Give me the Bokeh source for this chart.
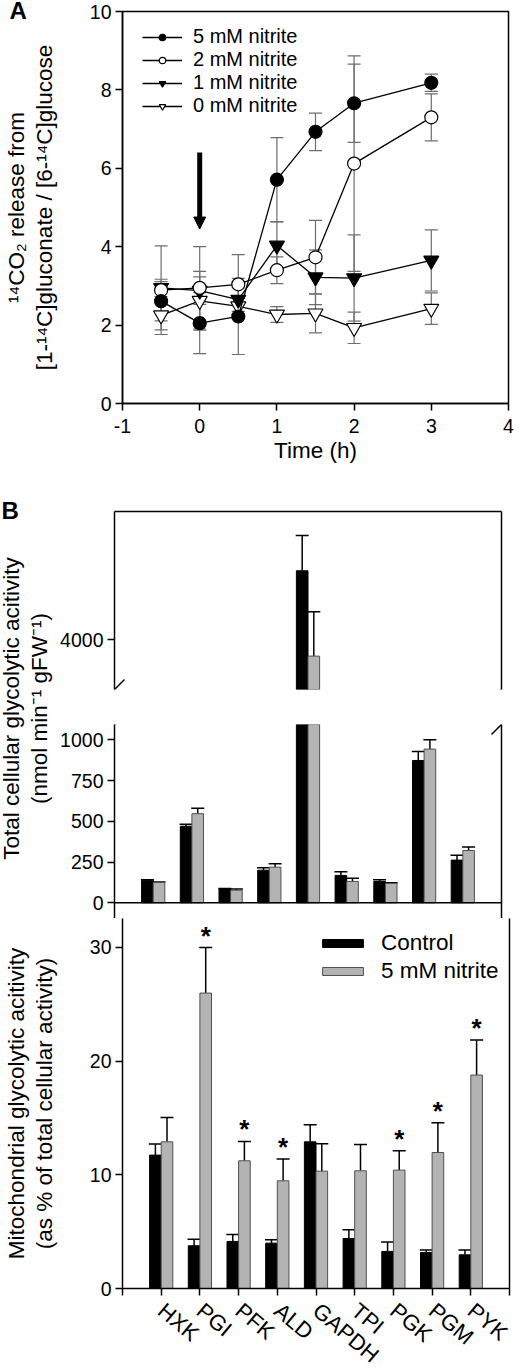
import numpy as np
from bokeh.plotting import figure
from bokeh.models import (ColumnDataSource, Whisker, TeeHead, Arrow, NormalHead, Legend,
                          LegendItem, FixedTicker, LinearAxis, Range1d, Label, Span)
from bokeh.layouts import column, row
from bokeh.transform import dodge
from bokeh.embed import file_html
from bokeh.resources import INLINE
from bokeh.core.properties import value

FONT = "Liberation Sans"
TICK_FS = "19.5px"
LABEL_FS = "22.5px"
ERR_GRAY = "#6e6e6e"
NIT_FILL = "#b3b3b3"
NIT_LINE = "#505050"

# ---------------- Panel A data ----------------
time_h = [-0.5, 0, 0.5, 1, 1.5, 2, 3]
ratio_5mM = [2.61, 2.05, 2.22, 5.71, 6.93, 7.66, 8.18]
err_5mM = [0.50, 0.78, 0.97, 1.07, 0.48, 1.00, 0.22]
ratio_2mM = [2.89, 2.95, 3.04, 3.40, 3.73, 6.12, 7.30]
err_2mM = [1.13, 1.05, 0.76, 0.34, 0.94, 2.75, 0.60]
ratio_1mM = [2.95, 2.88, 2.65, 4.03, 3.22, 3.20, 3.65]
err_1mM = [0.22, 0.35, 0.30, 0.60, 0.70, 1.10, 0.78]
ratio_0mM = [2.25, 2.62, 2.48, 2.27, 2.30, 1.93, 2.42]
err_0mM = [0.37, 0.75, 0.20, 0.20, 0.50, 0.40, 0.40]
series_labels = ["5 mM nitrite", "2 mM nitrite", "1 mM nitrite", "0 mM nitrite"]
x_ticks_A = [-1, 0, 1, 2, 3, 4]
y_ticks_A = [0, 2, 4, 6, 8, 10]
nitrite_added_at = 0          # time of the arrow
arrow_from, arrow_to = 6.4, 4.45

# ---------------- Panel B data ----------------
enzymes = ["HXK", "PGI", "PFK", "ALD", "GAPDH", "TPI", "PGK", "PGM", "PYK"]
total_control = [139, 470, 84, 200, 4424, 168, 131, 874, 262]
total_control_err = [3, 13, 3, 15, 217, 22, 10, 55, 30]
total_nitrite = [125, 547, 77, 219, 3900, 131, 119, 944, 321]
total_nitrite_err = [3, 34, 7, 21, 272, 20, 4, 57, 21]
mito_control = [11.73, 3.76, 4.14, 3.99, 12.90, 4.40, 3.26, 3.17, 2.96]
mito_control_err = [0.97, 0.58, 0.61, 0.29, 1.50, 0.76, 0.82, 0.21, 0.42]
mito_nitrite = [12.90, 25.98, 11.23, 9.47, 10.32, 10.35, 10.41, 11.96, 18.77]
mito_nitrite_err = [2.14, 4.00, 1.70, 1.91, 2.41, 2.32, 1.70, 2.61, 3.08]
significant = ["", "*", "*", "*", "", "", "*", "*", "*"]
total_ticks_low = [0, 250, 500, 750, 1000]
total_ticks_high = [4000]
mito_ticks = [0, 10, 20, 30]
legend_B = ["Control", "5 mM nitrite"]

# axis break of the total-activity panel
LOW_RANGE = (-96.6, 1095)
HIGH_RANGE = (3695, 4788)


def style_axis(ax):
    ax.axis_line_width = 1.5
    ax.axis_line_color = "black"
    ax.major_tick_line_width = 1.5
    ax.major_tick_line_color = "black"
    ax.major_tick_out = 7
    ax.major_tick_in = 0
    ax.minor_tick_line_color = None
    ax.major_label_text_font = FONT
    ax.major_label_text_font_size = TICK_FS
    ax.major_label_text_color = "black"
    ax.axis_label_text_font = FONT
    ax.axis_label_text_font_size = LABEL_FS
    ax.axis_label_text_font_style = "normal"
    ax.axis_label_text_color = "black"
    ax.axis_label_text_line_height = 1.12


def border_axis(p, side):
    ax = LinearAxis(ticker=FixedTicker(ticks=[]), major_label_text_font_size="0px",
                    major_tick_line_color=None, minor_tick_line_color=None,
                    axis_line_width=1.5, axis_line_color="black")
    p.add_layout(ax, side)


# ================= Panel A =================
A_FW = 386
A_FH = 392
A_TOP = 11
A_BOTTOM = 95
A_LEFT = 115
pA = figure(frame_width=A_FW, frame_height=A_FH, x_range=Range1d(-1, 4), y_range=Range1d(0, 10),
            min_border_left=A_LEFT, min_border_right=12, min_border_top=A_TOP,
            min_border_bottom=A_BOTTOM, title="A", title_location="above",
            output_backend="svg", toolbar_location=None,
            outline_line_color="black", outline_line_width=1.5)
# panel letter: title pulled left of the frame and down beside it
pA.title.align = "left"
pA.title.offset = -(A_LEFT - 2)
pA.title.standoff = -25
pA.title.vertical_align = "bottom"
pA.title.text_font = FONT
pA.title.text_font_size = "24px"
pA.title.text_font_style = "bold"
pA.title.text_color = "black"
pA.grid.visible = False
for ax in (pA.xaxis[0], pA.yaxis[0]):
    style_axis(ax)
pA.xaxis.ticker = FixedTicker(ticks=x_ticks_A)
pA.xaxis.major_label_overrides = {t: str(t) for t in x_ticks_A}
pA.yaxis.ticker = FixedTicker(ticks=y_ticks_A)
pA.xaxis.major_label_standoff = 8
pA.yaxis.major_label_standoff = 4
pA.xaxis.axis_label = "Time (h)"
pA.xaxis.axis_label_standoff = 2
pA.yaxis.axis_label = "¹⁴CO₂ release from\n[1-¹⁴C]gluconate / [6-¹⁴C]glucose"
pA.yaxis.axis_label_standoff = 30

series = [
    (ratio_0mM, err_0mM, "inverted_triangle", "white", 15),
    (ratio_1mM, err_1mM, "inverted_triangle", "black", 15),
    (ratio_2mM, err_2mM, "circle", "white", 13),
    (ratio_5mM, err_5mM, "circle", "black", 13),
]
legend_renderers = {}
for idx, (vals, errs, marker, fill, size) in enumerate(series):
    src = ColumnDataSource(dict(t=time_h, y=vals,
                                lo=[v - e for v, e in zip(vals, errs)],
                                hi=[v + e for v, e in zip(vals, errs)]))
    pA.add_layout(Whisker(source=src, base="t", lower="lo", upper="hi",
                          line_color=ERR_GRAY, line_width=1.2, level="underlay",
                          upper_head=TeeHead(size=13, line_color=ERR_GRAY, line_width=1.2),
                          lower_head=TeeHead(size=13, line_color=ERR_GRAY, line_width=1.2)))
    lr = pA.line("t", "y", source=src, line_color="black", line_width=1.3)
    sr = pA.scatter("t", "y", source=src, marker=marker, size=size, fill_color=fill,
                    line_color="black", line_width=1.2)
    legend_renderers[3 - idx] = [lr, sr]

legA = Legend(items=[LegendItem(label=series_labels[i], renderers=legend_renderers[i]) for i in range(4)],
              glyph_width=40, glyph_height=16, label_height=20, spacing=0,
              padding=0, margin=0, label_standoff=11, label_text_font=FONT,
              label_text_font_size="20px", label_text_color="black",
              border_line_color=None, background_fill_alpha=0)
try:
    legA.spacing = -3
except Exception:
    legA.spacing = 0
ROW_H = 27            # rendered height of one legend row (20px text)
leg_h = 4 * ROW_H + 3 * legA.spacing
legA.location = (20, int(round(A_FH - 56 - leg_h / 2)))
pA.add_layout(legA)

pA.add_layout(Arrow(x_start=nitrite_added_at, y_start=arrow_from, x_end=nitrite_added_at, y_end=arrow_to,
                    line_width=5, line_color="black",
                    end=NormalHead(size=12, fill_color="black", line_color="black", line_width=1)))

# ================= Panel B =================
LAB_W = 56
pos = list(range(1, len(enzymes) + 1))
xr = Range1d(0, len(enzymes) + 1)


def bar_source(ctrl, ctrl_err, nit, nit_err, keep):
    return ColumnDataSource(dict(
        x=[pos[i] for i in keep],
        ctrl=[ctrl[i] for i in keep], nit=[nit[i] for i in keep],
        ctrl_hi=[ctrl[i] + ctrl_err[i] for i in keep],
        nit_hi=[nit[i] + nit_err[i] for i in keep]))


all_rows = list(range(len(enzymes)))
high_rows = [i for i in all_rows if max(total_control[i], total_nitrite[i]) > HIGH_RANGE[0]]
src_tot = bar_source(total_control, total_control_err, total_nitrite, total_nitrite_err, all_rows)
src_tot_hi = bar_source(total_control, total_control_err, total_nitrite, total_nitrite_err, high_rows)
src_mito = bar_source(mito_control, mito_control_err, mito_nitrite, mito_nitrite_err, all_rows)
src_mito.data["sig"] = significant


def draw_bars(p, src):
    rc = p.vbar(x=dodge("x", -0.15), top="ctrl", bottom=0, width=0.3, source=src,
                fill_color="black", line_color="black", line_width=1)
    rn = p.vbar(x=dodge("x", 0.15), top="nit", bottom=0, width=0.3, source=src,
                fill_color=NIT_FILL, line_color=NIT_LINE, line_width=1)
    for off, lo, hi in ((-0.15, "ctrl", "ctrl_hi"), (0.15, "nit", "nit_hi")):
        p.add_layout(Whisker(source=src, base=dodge("x", off), lower=lo, upper=hi,
                             line_color="black", line_width=1.5, lower_head=None,
                             upper_head=TeeHead(size=13, line_color="black", line_width=1.5)))
    return rc, rn


def break_marks(p, yval, px_per_x, px_per_y):
    dx = 10 / px_per_x
    dy = 10 / px_per_y
    for xv in (xr.start, xr.end):
        p.add_layout(Arrow(x_start=xv - dx, y_start=yval - dy, x_end=xv + dx, y_end=yval + dy,
                           start=None, end=None, line_color="black", line_width=1.5))


FW = 387
U_FH = 178
L_FH = 194
U_H = 13 + U_FH + 12
L_H = 23 + L_FH
# upper segment (above the break)
pU = figure(frame_width=FW, frame_height=U_FH, x_range=xr, y_range=Range1d(*HIGH_RANGE),
            min_border_left=114 - LAB_W, min_border_right=10, min_border_top=13, min_border_bottom=12,
            x_axis_location=None, output_backend="svg", toolbar_location=None, title=None,
            outline_line_color=None)
pU.grid.visible = False
style_axis(pU.yaxis[0])
pU.yaxis.ticker = FixedTicker(ticks=total_ticks_high)
pU.yaxis.major_label_standoff = 4
border_axis(pU, "above")
border_axis(pU, "right")
draw_bars(pU, src_tot_hi)
break_marks(pU, HIGH_RANGE[0], FW / 10, U_FH / (HIGH_RANGE[1] - HIGH_RANGE[0]))

# lower segment (below the break)
pL = figure(frame_width=FW, frame_height=L_FH, x_range=xr, y_range=Range1d(*LOW_RANGE),
            min_border_left=114 - LAB_W, min_border_right=10, min_border_top=23, min_border_bottom=0,
            x_axis_location=None, output_backend="svg", toolbar_location=None, title=None,
            outline_line_color=None)
pL.grid.visible = False
style_axis(pL.yaxis[0])
pL.yaxis.ticker = FixedTicker(ticks=total_ticks_low)
pL.yaxis.major_label_standoff = 4
border_axis(pL, "right")
draw_bars(pL, src_tot)
pL.add_layout(Span(location=0, dimension="width", line_color="black", line_width=1.5))
break_marks(pL, LOW_RANGE[1], FW / 10, L_FH / (LOW_RANGE[1] - LOW_RANGE[0]))

LAB_H = U_H + L_H
pBlab = figure(width=LAB_W, height=LAB_H, min_border=0, x_axis_location=None, y_axis_location=None,
               outline_line_color=None, toolbar_location=None, title=None,
               output_backend="svg", x_range=Range1d(0, 1), y_range=Range1d(0, 1))
pBlab.grid.visible = False
pBlab.add_layout(Label(x=25, y=LAB_H - 210, x_units="screen", y_units="screen",
                       text="Total cellular glycolytic acitivity\n(nmol min⁻¹ gFW⁻¹)",
                       angle=np.pi / 2, text_align="center", text_baseline="middle",
                       text_color="black", text_font=FONT, text_font_size=LABEL_FS,
                       text_line_height=1.12))
pBlab.add_layout(Label(x=1, y=LAB_H + 2, x_units="screen", y_units="screen", text="B",
                       text_font=FONT, text_font_size="24px", text_font_style="bold",
                       text_color="black", text_baseline="top", text_align="left"))

# mitochondrial panel
M_FH = 370
pM = figure(frame_width=FW, frame_height=M_FH, x_range=xr, y_range=Range1d(0, 32.54),
            min_border_left=114, min_border_right=10, min_border_top=0, min_border_bottom=74,
            output_backend="svg", toolbar_location=None, title=None, outline_line_color=None)
pM.grid.visible = False
for ax in (pM.xaxis[0], pM.yaxis[0]):
    style_axis(ax)
pM.yaxis.ticker = FixedTicker(ticks=mito_ticks)
pM.yaxis.major_label_standoff = 4
pM.yaxis.axis_label = "Mitochondrial glycolytic acitivity\n(as % of total cellular activity)"
pM.yaxis.axis_label_standoff = 30
pM.xaxis.ticker = FixedTicker(ticks=list(range(0, len(enzymes) + 2)))
overrides = {0: "", len(enzymes) + 1: ""}
overrides.update({i + 1: name for i, name in enumerate(enzymes)})
pM.xaxis.major_label_overrides = overrides
pM.xaxis.major_label_orientation = -0.7
pM.xaxis.major_label_text_font_size = "22px"
pM.xaxis.major_label_standoff = 12
border_axis(pM, "right")
rc, rn = draw_bars(pM, src_mito)
pM.text(x=dodge("x", 0.15), y="nit_hi", text="sig", source=src_mito, text_font=value(FONT),
        text_font_size="26px", text_font_style="bold", text_align="center",
        text_baseline="middle", y_offset=-12, text_color="black")
legB = Legend(items=[LegendItem(label=legend_B[0], renderers=[rc]),
                     LegendItem(label=legend_B[1], renderers=[rn])],
              location=(195, 303), glyph_width=51, glyph_height=10, label_height=28,
              spacing=0, padding=0, margin=0, label_standoff=13, label_text_font=FONT,
              label_text_font_size=LABEL_FS, label_text_color="black",
              border_line_color=None, background_fill_alpha=0)
pM.add_layout(legB)

layout = column(pA, row(pBlab, column(pU, pL)), pM)
open("out.html", "w").write(file_html(layout, INLINE))
